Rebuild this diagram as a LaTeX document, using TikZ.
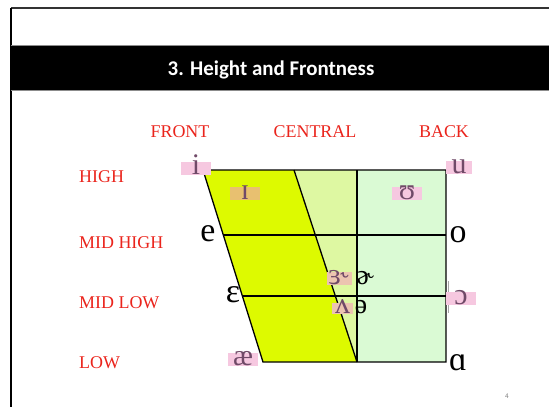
\documentclass[tikz,border=0pt]{standalone}
\usepackage{fontspec}
\setmainfont{Liberation Serif}
\newfontfamily\titlefont{Carlito}
\usetikzlibrary{positioning}
\definecolor{labelred}{RGB}{234,36,28}
\definecolor{hlpink}{RGB}{246,200,224}
\definecolor{hltan}{RGB}{232,192,112}
\definecolor{hlrose}{RGB}{236,196,176}
\definecolor{hltext}{RGB}{112,74,104}
\definecolor{frontfill}{RGB}{221,250,0}
\definecolor{centfill}{RGB}{222,248,162}
\definecolor{backfill}{RGB}{218,250,212}
\tikzset{
  rowlabel/.style={font=\fontsize{18}{18}\selectfont, text=labelred, anchor=base west, inner sep=0pt},
  collabel/.style={font=\fontsize{18}{18}\selectfont, text=labelred, anchor=base, inner sep=0pt},
  vowel/.style={font=\fontsize{34}{34}\selectfont, anchor=base, inner sep=0pt},
  hlvowel/.style={font=\fontsize{30}{30}\selectfont, text=hltext, fill=hlpink, anchor=base, inner xsep=0pt, inner ysep=0.5bp, text height=12bp, text depth=0pt, minimum width=30bp},
  chartline/.style={line width=1.3bp, black}
}
\begin{document}
\begin{tikzpicture}[x=1bp, y=-1bp]
  \useasboundingbox (0,0) rectangle (549,407);
  % slide frame and title bar
  \draw[line width=1.6bp, black!80] (11,8) -- (549,8);
  \draw[line width=2.2bp, black] (11,8) -- (11,407);
  \fill[black] (11,45) rectangle (549,90);
  \draw[black!45, line width=0.8bp] (11,45) -- (549,45) (11,90) -- (549,90);
  \node[font=\titlefont\bfseries\fontsize{21}{21}\selectfont, text=white, anchor=base] (title) at (271,75) {3. Height and Frontness};
  % chart corners
  \coordinate (tl) at (203,170);
  \coordinate (tm) at (294,170);
  \coordinate (tc) at (357,170);
  \coordinate (tr) at (446,170);
  \coordinate (bl) at (263,362);
  \coordinate (bm) at (357,362);
  \coordinate (br) at (446,362);
  \coordinate (ml1) at (223.3,235);
  \coordinate (mr1) at (446,235);
  \coordinate (ml2) at (242.4,296);
  \coordinate (mr2) at (446,296);
  \fill[frontfill] (tl) -- (tm) -- (bm) -- (bl) -- cycle;
  \fill[centfill] (tm) -- (tc) -- (bm) -- cycle;
  \fill[backfill] (tc) -- (tr) -- (br) -- (bm) -- cycle;
  \draw[chartline] (tl) -- (tr) -- (br) -- (bl) -- cycle;
  \draw[chartline] (tm) -- (bm);
  \draw[chartline] (tc) -- (bm);
  \draw[chartline] (ml1) -- (mr1);
  \draw[chartline] (ml2) -- (mr2);
  \draw[line width=2.4bp] (357,261) -- (357,292);
  \draw[black!35, line width=0.6bp] (448.5,281) -- (448.5,313);
  % column and row labels
  \node[collabel] (front) at (180,137) {FRONT};
  \node[collabel] (central) at (315,137) {CENTRAL};
  \node[collabel] (back) at (444,137) {BACK};
  \node[rowlabel] (high) at (79,182) {HIGH};
  \node[rowlabel] (midhigh) at (79,248) {MID HIGH};
  \node[rowlabel] (midlow) at (79,308) {MID LOW};
  \node[rowlabel] (low) at (79,368) {LOW};
  % vowels
  \node[hlvowel] (vi) at (196,174) {i};
  \node[hlvowel, fill=hltan] (vsmi) at (245,199) {ɪ};
  \node[hlvowel] (vhoru) at (407,199) {ʊ};
  \node[hlvowel, minimum width=26bp] (vu) at (459,173) {u};
  \node[vowel] (ve) at (208,241) {e};
  \node[vowel] (vo) at (458,242) {o};
  \node[vowel] (veps) at (233,302) {ɛ};
  \node[hlvowel] (vopo) at (461,304) {ɔ};
  \node[hlvowel] (vae) at (243,365) {æ};
  \node[vowel] (vscript) at (458,370) {ɑ};
  \node[hlvowel, fill=hlrose, minimum width=25bp] (vrevr) at (339.5,284) {ɜ˞};
  \node[vowel, font=\fontsize{28}{28}\selectfont] (vschr) at (365,284) {ɚ};
  \node[hlvowel, fill=hlrose, minimum width=21bp, text height=10bp] (vwedge) at (342.5,313) {ʌ};
  \node[vowel, font=\fontsize{28}{28}\selectfont] (vschwa) at (361,313) {ə};
  \node[font=\sffamily\fontsize{7}{7}\selectfont, text=black!50, anchor=base] (pagenum) at (507,398) {4};
\end{tikzpicture}
\end{document}
